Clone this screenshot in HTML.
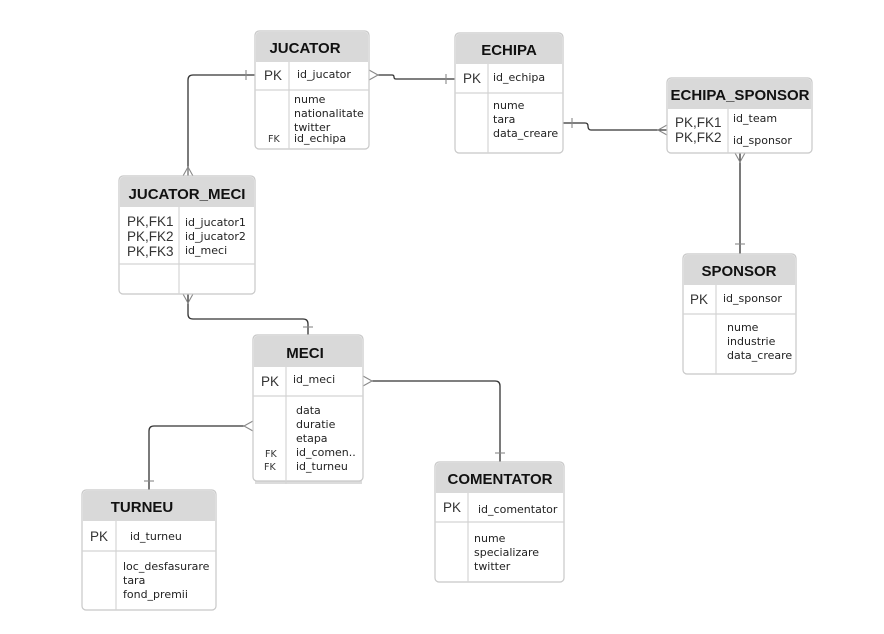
<!DOCTYPE html>
<html><head><meta charset="utf-8">
<style>
html,body{margin:0;padding:0;background:#fff;}
svg{display:block;}
text{font-family:"Liberation Sans","DejaVu Sans",sans-serif;}
.h{font-size:15px;font-weight:bold;fill:#111;text-anchor:middle;}
.f{font-family:"DejaVu Sans","Liberation Sans",sans-serif;font-size:11px;fill:#222;}
.k{font-size:13.5px;fill:#333;}
.fk{font-family:"DejaVu Sans",sans-serif;font-size:9.5px;fill:#333;}
.box{fill:#fff;stroke:#c8c8c8;stroke-width:1.2;}
.hd{fill:#d9d9d9;}
.sep{stroke:#d4d4d4;stroke-width:1.2;}
.ln{fill:none;stroke:#333;stroke-width:1.3;}
.cr{fill:none;stroke:#888;stroke-width:1.1;}
</style></head><body>
<svg width="884" height="634" viewBox="0 0 884 634" xmlns="http://www.w3.org/2000/svg">

<path class="ln" d="M255 75 H193 Q188 75 188 80 V176"/>
<line class="cr" x1="246" y1="70" x2="246" y2="80"/>
<path class="cr" d="M183 176 L188 167 L193 176 M188 167 V176"/>
<path class="ln" d="M378 75 H392 Q394 75 394 77 Q394 79 396 79 H455"/>
<path class="cr" d="M369 70 L378 75 L369 80"/>
<line class="cr" x1="446" y1="74" x2="446" y2="84"/>
<path class="ln" d="M563 123 H585 Q588 123 588 126 Q588 130 591 130 H667"/>
<line class="cr" x1="572" y1="118" x2="572" y2="128"/>
<path class="cr" d="M667 125 L658 130 L667 135"/>
<path class="ln" d="M740 153 V254"/>
<path class="cr" d="M735 153 L740 162 L745 153"/>
<line class="cr" x1="735" y1="244" x2="745" y2="244"/>
<path class="ln" d="M188 294 V314 Q188 319 193 319 H303 Q308 319 308 324 V335"/>
<path class="cr" d="M183 294 L188 303 L193 294"/>
<line class="cr" x1="303" y1="327" x2="313" y2="327"/>
<path class="ln" d="M372 381 H495 Q500 381 500 386 V462"/>
<path class="cr" d="M363 376 L372 381 L363 386"/>
<line class="cr" x1="495" y1="453" x2="505" y2="453"/>
<path class="ln" d="M244 426 H154 Q149 426 149 431 V490"/>
<path class="cr" d="M253 421 L244 426 L253 431"/>
<line class="cr" x1="144" y1="481" x2="154" y2="481"/>

<rect class="box" x="255" y="31" width="114" height="118" rx="4"/>
<path class="hd" d="M256 35 Q256 32 259 32 H365 Q368 32 368 35 V62 H256 Z"/>
<line class="sep" x1="255" y1="90" x2="369" y2="90"/>
<line class="sep" x1="289" y1="62" x2="289" y2="149"/>
<text class="h" x="305" y="53">JUCATOR</text>
<text class="k" x="264" y="80">PK</text>
<text class="f" x="297" y="78">id_jucator</text>
<text class="f" x="294" y="103">nume</text>
<text class="f" x="294" y="117">nationalitate</text>
<text class="f" x="294" y="131">twitter</text>
<text class="fk" x="268" y="142">FK</text>
<text class="f" x="294" y="142">id_echipa</text>

<rect class="box" x="455" y="33" width="108" height="120" rx="4"/>
<path class="hd" d="M456 37 Q456 34 459 34 H559 Q562 34 562 37 V64 H456 Z"/>
<line class="sep" x1="455" y1="93" x2="563" y2="93"/>
<line class="sep" x1="488" y1="64" x2="488" y2="153"/>
<text class="h" x="509" y="55">ECHIPA</text>
<text class="k" x="463" y="83">PK</text>
<text class="f" x="493" y="81">id_echipa</text>
<text class="f" x="493" y="109">nume</text>
<text class="f" x="493" y="123">tara</text>
<text class="f" x="493" y="137">data_creare</text>

<rect class="box" x="667" y="78" width="145" height="75" rx="4"/>
<path class="hd" d="M668 82 Q668 79 671 79 H808 Q811 79 811 82 V109 H668 Z"/>
<line class="sep" x1="728" y1="109" x2="728" y2="153"/>
<text class="h" x="740" y="100">ECHIPA_SPONSOR</text>
<text class="k" x="675" y="127">PK,FK1</text>
<text class="k" x="675" y="142">PK,FK2</text>
<text class="f" x="733" y="122">id_team</text>
<text class="f" x="733" y="144">id_sponsor</text>

<rect class="box" x="119" y="176" width="136" height="118" rx="4"/>
<path class="hd" d="M120 180 Q120 177 123 177 H251 Q254 177 254 180 V207 H120 Z"/>
<line class="sep" x1="119" y1="264" x2="255" y2="264"/>
<line class="sep" x1="179" y1="207" x2="179" y2="294"/>
<text class="h" x="187" y="199">JUCATOR_MECI</text>
<text class="k" x="127" y="226">PK,FK1</text>
<text class="k" x="127" y="241">PK,FK2</text>
<text class="k" x="127" y="256">PK,FK3</text>
<text class="f" x="185" y="226">id_jucator1</text>
<text class="f" x="185" y="240">id_jucator2</text>
<text class="f" x="185" y="254">id_meci</text>

<rect class="box" x="683" y="254" width="113" height="120" rx="4"/>
<path class="hd" d="M684 258 Q684 255 687 255 H792 Q795 255 795 258 V285 H684 Z"/>
<line class="sep" x1="683" y1="314" x2="796" y2="314"/>
<line class="sep" x1="716" y1="285" x2="716" y2="374"/>
<text class="h" x="739" y="276">SPONSOR</text>
<text class="k" x="690" y="304">PK</text>
<text class="f" x="723" y="302">id_sponsor</text>
<text class="f" x="727" y="331">nume</text>
<text class="f" x="727" y="345">industrie</text>
<text class="f" x="727" y="359">data_creare</text>

<rect x="255" y="478" width="107" height="6" fill="#dcdcdc"/>
<rect class="box" x="253" y="335" width="110" height="146" rx="4"/>
<path class="hd" d="M254 339 Q254 336 257 336 H359 Q362 336 362 339 V367 H254 Z"/>
<line class="sep" x1="253" y1="396" x2="363" y2="396"/>
<line class="sep" x1="286" y1="367" x2="286" y2="484"/>
<text class="h" x="305" y="358">MECI</text>
<text class="k" x="261" y="386">PK</text>
<text class="f" x="293" y="383">id_meci</text>
<text class="f" x="296" y="414">data</text>
<text class="f" x="296" y="428">duratie</text>
<text class="f" x="296" y="442">etapa</text>
<text class="fk" x="265" y="457">FK</text>
<text class="f" x="296" y="456">id_comen..</text>
<text class="fk" x="264" y="470">FK</text>
<text class="f" x="296" y="470">id_turneu</text>

<rect class="box" x="82" y="490" width="134" height="120" rx="4"/>
<path class="hd" d="M83 494 Q83 491 86 491 H212 Q215 491 215 494 V521 H83 Z"/>
<line class="sep" x1="82" y1="551" x2="216" y2="551"/>
<line class="sep" x1="116" y1="521" x2="116" y2="610"/>
<text class="h" x="142" y="512">TURNEU</text>
<text class="k" x="90" y="541">PK</text>
<text class="f" x="130" y="540">id_turneu</text>
<text class="f" x="123" y="570">loc_desfasurare</text>
<text class="f" x="123" y="584">tara</text>
<text class="f" x="123" y="598">fond_premii</text>

<rect class="box" x="435" y="462" width="129" height="120" rx="4"/>
<path class="hd" d="M436 466 Q436 463 439 463 H560 Q563 463 563 466 V493 H436 Z"/>
<line class="sep" x1="435" y1="522" x2="564" y2="522"/>
<line class="sep" x1="468" y1="493" x2="468" y2="582"/>
<text class="h" x="500" y="484">COMENTATOR</text>
<text class="k" x="443" y="512">PK</text>
<text class="f" x="478" y="513">id_comentator</text>
<text class="f" x="474" y="542">nume</text>
<text class="f" x="474" y="556">specializare</text>
<text class="f" x="474" y="570">twitter</text>

</svg>
</body></html>
